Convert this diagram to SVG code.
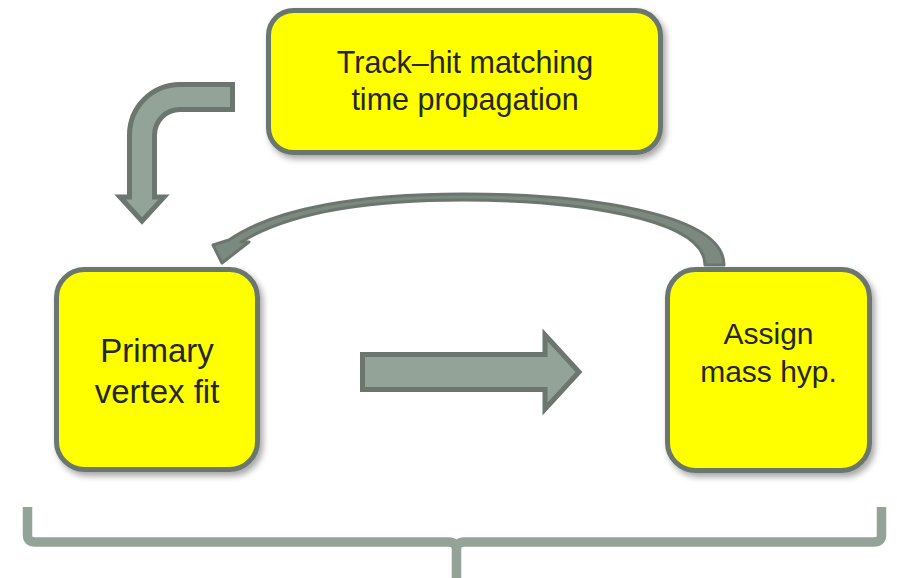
<svg xmlns="http://www.w3.org/2000/svg" width="897" height="578" viewBox="0 0 897 578">
  <defs>
    <filter id="sh" x="-10%" y="-10%" width="125%" height="125%">
      <feDropShadow dx="3" dy="4" stdDeviation="3" flood-color="#000" flood-opacity="0.35"/>
    </filter>
  </defs>
  <style>
    .box { fill: #ffff00; stroke: #6b776e; stroke-width: 5; }
    .arrow { fill: #93a398; stroke: #6b776e; stroke-width: 5; stroke-linejoin: miter; }
    .curve { fill: #7c897f; stroke: #6b776e; stroke-width: 3; stroke-linejoin: round; }
    .brace { fill: none; stroke: #93a398; stroke-width: 9.5; }
    .lbl { font-family: "Liberation Sans", Arial, sans-serif; fill: #262626; text-anchor: middle; }
  </style>
  <rect width="897" height="578" fill="#ffffff"/>

  <g id="connectors">
    <path id="bent-arrow" class="arrow" d="M 232.5 84.5 H 180 A 50.5 50.5 0 0 0 129.5 135 V 197 H 120 L 142 221 L 164 197 H 154.5 V 135 A 25.5 25.5 0 0 1 180 109.5 H 232.5 Z"/>
    <path id="right-arrow" class="arrow" d="M 362.5 354.5 H 545 V 335 L 579 372 L 545 409 V 389.5 H 362.5 Z"/>
    <path id="curved-arrow" class="curve" d="M 724 265 C 724 212, 580 194, 463 194 C 360 194, 275 208, 229 240 L 213 245 L 222 263 L 249 242 L 241 242 C 285 215, 360 200, 463 200 C 570 200, 705 217, 705 265 Z"/>
    <path id="brace" class="brace" d="M 27.5 507 V 535 Q 27.5 542 35 542 H 449 Q 456.5 542 456.5 550 V 578 M 456.5 550 Q 456.5 542 464 542 H 874 Q 881.5 542 881.5 535 V 507"/>
  </g>

  <g id="node-track">
    <rect class="box" filter="url(#sh)" x="268.5" y="10.5" width="392" height="142" rx="25" ry="25"/>
    <text class="lbl" font-size="30.5" x="465" y="72.5">Track–hit matching</text>
    <text class="lbl" font-size="30.5" x="465" y="110">time propagation</text>
  </g>

  <g id="node-primary">
    <rect class="box" filter="url(#sh)" x="56.5" y="269.5" width="201" height="200" rx="28" ry="28"/>
    <text class="lbl" font-size="33" x="157" y="362">Primary</text>
    <text class="lbl" font-size="33" x="157" y="403">vertex fit</text>
  </g>

  <g id="node-assign">
    <rect class="box" filter="url(#sh)" x="667.5" y="269.5" width="202" height="201" rx="28" ry="28"/>
    <text class="lbl" font-size="30" x="768.5" y="344">Assign</text>
    <text class="lbl" font-size="30" x="768.5" y="382">mass hyp.</text>
  </g>
</svg>
